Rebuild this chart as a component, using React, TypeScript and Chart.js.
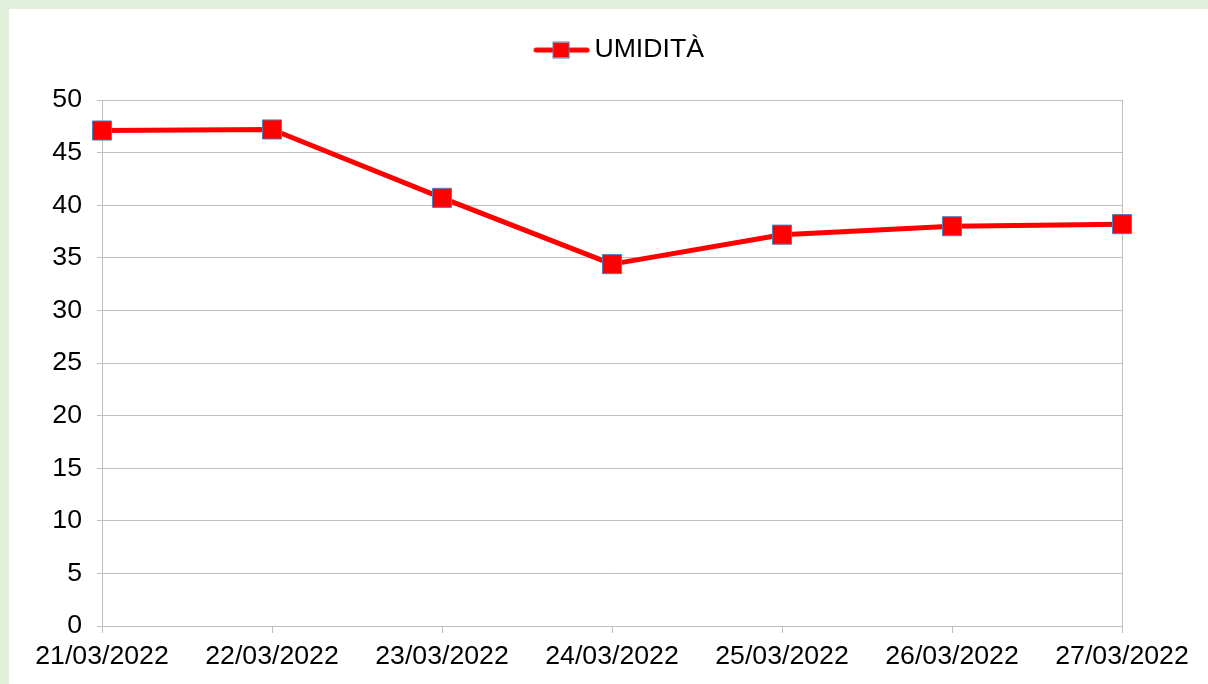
import React, { useEffect, useRef } from "react";
import { Chart, registerables } from "chart.js";

Chart.register(...registerables);

const categories = ["21/03/2022", "22/03/2022", "23/03/2022", "24/03/2022", "25/03/2022", "26/03/2022", "27/03/2022"];
const humidity = [47.1, 47.2, 40.7, 34.4, 37.2, 38.0, 38.2];
const seriesLabel = "UMIDITÀ";
const yMin = 0;
const yMax = 50;
const yStep = 5;

const RED = "#ff0000";
const MARKER_BORDER = "#4f81bd";
const GRID = "#bfbfbf";
const FONT = { family: "'Liberation Sans', Arial, sans-serif", size: 26.67 };

function makeLegendImage(): HTMLCanvasElement {
  const c = document.createElement("canvas");
  c.width = 80;
  c.height = 20;
  const ctx = c.getContext("2d")!;
  ctx.strokeStyle = RED;
  ctx.lineWidth = 5;
  ctx.lineCap = "round";
  ctx.beginPath();
  ctx.moveTo(25.5, 10);
  ctx.lineTo(76.5, 10);
  ctx.stroke();
  ctx.fillStyle = RED;
  ctx.fillRect(43, 2.5, 15, 15);
  ctx.strokeStyle = MARKER_BORDER;
  ctx.lineWidth = 1;
  ctx.strokeRect(42.5, 2, 16, 16);
  return c;
}

const rightBorderPlugin = {
  id: "rightBorder",
  beforeDatasetsDraw(chart: any) {
    const { ctx, chartArea } = chart;
    const x = Math.round(chartArea.right) + 0.5;
    ctx.save();
    ctx.strokeStyle = GRID;
    ctx.lineWidth = 1;
    ctx.beginPath();
    ctx.moveTo(x, chartArea.top);
    ctx.lineTo(x, chartArea.bottom + 7);
    ctx.stroke();
    ctx.restore();
  },
};

export default function App() {
  const ref = useRef<HTMLCanvasElement>(null);

  useEffect(() => {
    if (!ref.current) return;
    const legendImg = makeLegendImage();
    const chart = new Chart(ref.current, {
      type: "line",
      data: {
        labels: categories,
        datasets: [
          {
            label: seriesLabel,
            data: humidity,
            borderColor: RED,
            backgroundColor: RED,
            borderWidth: 5,
            borderJoinStyle: "round",
            borderCapStyle: "round",
            pointStyle: "rect",
            pointRadius: 13.5,
            pointHoverRadius: 13.5,
            pointBackgroundColor: RED,
            pointBorderColor: MARKER_BORDER,
            pointBorderWidth: 1,
            tension: 0,
          },
        ],
      },
      options: {
        responsive: false,
        animation: false,
        layout: { padding: { left: 0, right: 86, top: 0, bottom: 0 } },
        plugins: {
          tooltip: { enabled: false },
          subtitle: {
            display: true,
            text: " ",
            font: { size: 10, lineHeight: 1 },
            padding: { top: 0, bottom: 16.67 },
          },
          legend: {
            display: true,
            position: "top",
            fullSize: false,
            weight: 3000,
            labels: {
              usePointStyle: true,
              pointStyle: legendImg as any,
              pointStyleWidth: 61,
              padding: 36.67,
              color: "#000",
              font: FONT,
            },
          },
        },
        scales: {
          x: {
            type: "category",
            offset: false,
            grid: {
              display: true,
              drawOnChartArea: false,
              drawTicks: true,
              tickLength: 7,
              color: GRID,
            },
            border: { display: true, color: GRID },
            ticks: {
              color: "#000",
              font: FONT,
              padding: 8,
              maxRotation: 0,
              autoSkip: false,
            },
            afterFit(scale: any) {
              scale.height = 58;
              scale.paddingLeft = 0;
              scale.paddingRight = 0;
            },
          },
          y: {
            min: yMin,
            max: yMax,
            grid: {
              color: GRID,
              tickLength: 5,
            },
            border: { display: true, color: GRID },
            ticks: {
              stepSize: yStep,
              color: "#000",
              font: FONT,
              padding: 15,
            },
            afterFit(scale: any) {
              scale.width = 102;
              scale.paddingTop = 0;
              scale.paddingBottom = 0;
            },
          },
        },
      },
      plugins: [rightBorderPlugin],
    });
    return () => chart.destroy();
  }, []);

  return (
    <div
      style={{
        position: "fixed",
        left: 0,
        top: 0,
        width: 1208,
        height: 684,
        background: "#e2efda",
        overflow: "hidden",
      }}
    >
      <div
        style={{
          position: "absolute",
          left: 9,
          top: 9,
          right: 0,
          bottom: 0,
          background: "#ffffff",
        }}
      />
      <canvas
        ref={ref}
        width={1208}
        height={684}
        style={{ position: "absolute", left: 0, top: 0, width: 1208, height: 684 }}
      />
    </div>
  );
}
